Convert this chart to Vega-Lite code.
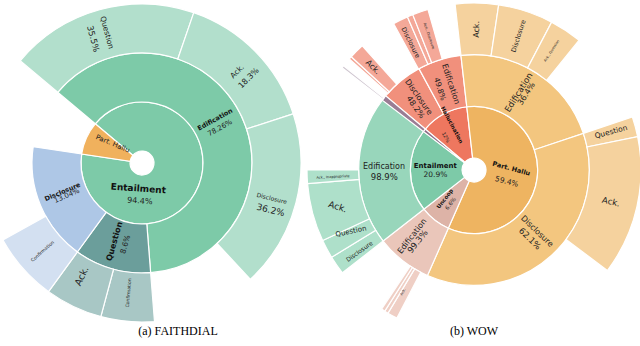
{
  "$schema": "https://vega.github.io/schema/vega-lite/v6.json",
  "padding": 0,
  "background": "white",
  "spacing": 24,
  "bounds": "flush",
  "config": {"view": {"stroke": null}, "title": {"font": "Liberation Serif", "fontSize": 12, "fontWeight": "normal", "color": "#000000", "anchor": "middle", "baseline": "top"}},
  "resolve": {"scale": {"theta": "independent", "radius": "independent", "color": "independent", "size": "independent", "angle": "independent"}},
  "datasets": {
    "leftArcs": [
      {"family": "Entailment", "ring": 1, "name": "Entailment", "start": -50, "end": 278.5},
      {"family": "Part. Hallu", "ring": 1, "name": "Part. Hallu", "start": 278.5, "end": 310},
      {"family": "Entailment", "ring": 2, "name": "Edification", "start": -50, "end": 175.5},
      {"family": "Question", "ring": 2, "name": "Question", "start": 175.5, "end": 216},
      {"family": "Disclosure", "ring": 2, "name": "Disclosure", "start": 216, "end": 278.5},
      {"family": "Entailment", "ring": 3, "name": "Question", "start": -50, "end": 19},
      {"family": "Entailment", "ring": 3, "name": "Ack.", "start": 19, "end": 72},
      {"family": "Entailment", "ring": 3, "name": "Disclosure", "start": 72, "end": 137},
      {"family": "Question", "ring": 3, "name": "Confirmation", "start": 175.5, "end": 195},
      {"family": "Question", "ring": 3, "name": "Ack.", "start": 195, "end": 216},
      {"family": "Disclosure", "ring": 3, "name": "Confirmation", "start": 216, "end": 241}
    ],
    "leftLabels": [
      {"text": "Entailment", "theta": 188.2, "depth": 0.28, "at": 184, "orient": "tangential", "tier": 12, "bold": true},
      {"text": "94.4%", "theta": 183.4, "depth": 0.54, "at": 184, "orient": "tangential", "tier": 10, "bold": false},
      {"text": "Part. Hallu", "theta": 303, "depth": 0.47, "at": 293, "orient": "radial", "tier": 8, "bold": false},
      {"text": "Edification", "theta": 59.3, "depth": 1.49, "at": 61, "orient": "radial", "tier": 7, "bold": true},
      {"text": "78.26%", "theta": 65.9, "depth": 1.5, "at": 61, "orient": "radial", "tier": 8, "bold": false},
      {"text": "Question", "theta": 344.8, "depth": 2.51, "at": 345, "orient": "radial", "tier": 9, "bold": false},
      {"text": "35.5%", "theta": 338.6, "depth": 2.48, "at": 345, "orient": "radial", "tier": 11, "bold": false},
      {"text": "Ack.", "theta": 46.3, "depth": 2.45, "at": 45, "orient": "radial", "tier": 9, "bold": false},
      {"text": "18.3%", "theta": 51.7, "depth": 2.54, "at": 45, "orient": "radial", "tier": 10, "bold": false},
      {"text": "Disclosure", "theta": 105.3, "depth": 2.5, "at": 104, "orient": "radial", "tier": 6, "bold": false},
      {"text": "36.2%", "theta": 110.1, "depth": 2.55, "at": 104, "orient": "radial", "tier": 12, "bold": false},
      {"text": "Disclosure", "theta": 250, "depth": 1.48, "at": 247, "orient": "radial", "tier": 7, "bold": true},
      {"text": "13.04%", "theta": 246.4, "depth": 1.43, "at": 247, "orient": "radial", "tier": 8, "bold": false},
      {"text": "Question", "theta": 199, "depth": 1.45, "at": 196, "orient": "radial", "tier": 10, "bold": true},
      {"text": "8.6%", "theta": 191.3, "depth": 1.45, "at": 196, "orient": "radial", "tier": 9, "bold": false},
      {"text": "Confirmation", "theta": 228.2, "depth": 2.47, "at": 228.5, "orient": "radial", "tier": 3, "bold": false},
      {"text": "Ack.", "theta": 208, "depth": 2.37, "at": 205.5, "orient": "radial", "tier": 13, "bold": false},
      {"text": "Confirmation", "theta": 185.7, "depth": 2.42, "at": 185, "orient": "radial", "tier": 3, "bold": false}
    ],
    "rightArcs": [
      {"family": "Hallucination", "ring": 1, "name": "Hallucination", "start": 310, "end": 353.5},
      {"family": "Part. Hallu", "ring": 1, "name": "Part. Hallu", "start": -6.5, "end": 203.8},
      {"family": "Uncoop", "ring": 1, "name": "Uncoop", "start": 203.8, "end": 232},
      {"family": "Entailment", "ring": 1, "name": "Entailment", "start": 232, "end": 307.5},
      {"family": "Other", "ring": 1, "name": "Other", "start": 307.3, "end": 310},
      {"family": "Hallucination", "ring": 2, "name": "Disclosure", "start": 310, "end": 331.5},
      {"family": "Hallucination", "ring": 2, "name": "Edification", "start": 331.5, "end": 353.5},
      {"family": "Part. Hallu", "ring": 2, "name": "Edification", "start": -6.5, "end": 71.5},
      {"family": "Part. Hallu", "ring": 2, "name": "Disclosure", "start": 71.5, "end": 203.8},
      {"family": "Uncoop", "ring": 2, "name": "Edification", "start": 203.8, "end": 232},
      {"family": "Entailment", "ring": 2, "name": "Edification", "start": 232, "end": 307.5},
      {"family": "Other", "ring": 2, "name": "Other", "start": 307.3, "end": 310},
      {"family": "Hallucination", "ring": 3, "name": "Ack., Question", "start": 311.7, "end": 312.7},
      {"family": "Hallucination", "ring": 3, "name": "Ack.", "start": 312.7, "end": 318},
      {"family": "Hallucination", "ring": 3, "name": "Disclosure", "start": 331.2, "end": 336.5},
      {"family": "Hallucination", "ring": 3, "name": "Ack., Question", "start": 336.5, "end": 338.5},
      {"family": "Hallucination", "ring": 3, "name": "Ack., Disclosure", "start": 338.5, "end": 344},
      {"family": "Part. Hallu", "ring": 3, "name": "Ack.", "start": -6.5, "end": 8.5},
      {"family": "Part. Hallu", "ring": 3, "name": "Disclosure", "start": 8.5, "end": 27.7},
      {"family": "Part. Hallu", "ring": 3, "name": "Ack., Disclosure", "start": 27.7, "end": 39},
      {"family": "Part. Hallu", "ring": 3, "name": "Question", "start": 71.5, "end": 78.5},
      {"family": "Part. Hallu", "ring": 3, "name": "Ack.", "start": 78.5, "end": 127},
      {"family": "Uncoop", "ring": 3, "name": "Ack.", "start": 207.5, "end": 211},
      {"family": "Uncoop", "ring": 3, "name": "Question", "start": 211, "end": 212.3},
      {"family": "Uncoop", "ring": 3, "name": "Disclosure", "start": 212.3, "end": 213.6},
      {"family": "Entailment", "ring": 3, "name": "Disclosure", "start": 232, "end": 238.5},
      {"family": "Entailment", "ring": 3, "name": "Question", "start": 238.5, "end": 245},
      {"family": "Entailment", "ring": 3, "name": "Ack.", "start": 245, "end": 265.3},
      {"family": "Entailment", "ring": 3, "name": "Ack., Inappropriate", "start": 265.3, "end": 270},
      {"family": "Other", "ring": 3, "name": "Other", "start": 307.8, "end": 308.6}
    ],
    "rightLabels": [
      {"text": "Part. Hallu", "theta": 88, "depth": 0.49, "at": 105, "orient": "radial", "tier": 7, "bold": true},
      {"text": "59.4%", "theta": 110, "depth": 0.44, "at": 105, "orient": "radial", "tier": 9, "bold": false},
      {"text": "Entailment", "theta": 275.9, "depth": 0.52, "at": 270, "orient": "radial", "tier": 8, "bold": true},
      {"text": "20.9%", "theta": 263, "depth": 0.52, "at": 270, "orient": "radial", "tier": 9, "bold": false},
      {"text": "Hallucination", "theta": 334.1, "depth": 0.74, "at": 332, "orient": "radial", "tier": 5, "bold": true},
      {"text": "12%", "theta": 319.7, "depth": 0.6, "at": 332, "orient": "radial", "tier": 4, "bold": false},
      {"text": "Uncoop", "theta": 225.6, "depth": 0.56, "at": 218, "orient": "radial", "tier": 5, "bold": true},
      {"text": "6.6%", "theta": 215.1, "depth": 0.56, "at": 218, "orient": "radial", "tier": 5, "bold": false},
      {"text": "Edification", "theta": 271.9, "depth": 1.51, "at": 270, "orient": "radial", "tier": 10, "bold": false},
      {"text": "98.9%", "theta": 265.6, "depth": 1.51, "at": 270, "orient": "radial", "tier": 11, "bold": false},
      {"text": "Edification", "theta": 29.8, "depth": 1.5, "at": 32, "orient": "radial", "tier": 11, "bold": false},
      {"text": "36.4%", "theta": 34.8, "depth": 1.56, "at": 32, "orient": "radial", "tier": 10, "bold": false},
      {"text": "Disclosure", "theta": 134.5, "depth": 1.47, "at": 134, "orient": "radial", "tier": 10, "bold": false},
      {"text": "62.1%", "theta": 140.7, "depth": 1.48, "at": 134, "orient": "radial", "tier": 11, "bold": false},
      {"text": "Disclosure", "theta": 322.5, "depth": 1.54, "at": 325, "orient": "radial", "tier": 10, "bold": false},
      {"text": "48.2%", "theta": 316.7, "depth": 1.43, "at": 325, "orient": "radial", "tier": 10, "bold": false},
      {"text": "Edification", "theta": 344.6, "depth": 1.49, "at": 342, "orient": "radial", "tier": 10, "bold": false},
      {"text": "49.8%", "theta": 336.9, "depth": 1.47, "at": 342, "orient": "radial", "tier": 9, "bold": false},
      {"text": "Edification", "theta": 222.8, "depth": 1.52, "at": 218, "orient": "radial", "tier": 10, "bold": false},
      {"text": "99.3%", "theta": 218.4, "depth": 1.53, "at": 218, "orient": "radial", "tier": 11, "bold": false},
      {"text": "Ack.", "theta": 1.2, "depth": 2.49, "at": 1, "orient": "radial", "tier": 10, "bold": false},
      {"text": "Disclosure", "theta": 18.4, "depth": 2.5, "at": 18, "orient": "radial", "tier": 7, "bold": false},
      {"text": "Ack., Question", "theta": 33.1, "depth": 2.52, "at": 33, "orient": "radial", "tier": 1, "bold": false},
      {"text": "Question", "theta": 74.6, "depth": 2.52, "at": 75, "orient": "radial", "tier": 9, "bold": false},
      {"text": "Ack.", "theta": 103, "depth": 2.49, "at": 103, "orient": "radial", "tier": 11, "bold": false},
      {"text": "Ack.", "theta": 315.3, "depth": 2.56, "at": 315, "orient": "radial", "tier": 10, "bold": false},
      {"text": "Disclosure", "theta": 333.5, "depth": 2.52, "at": 333.5, "orient": "radial", "tier": 7, "bold": false},
      {"text": "Ack., Disclosure", "theta": 341.4, "depth": 2.5, "at": 341, "orient": "radial", "tier": 1, "bold": false},
      {"text": "Ack.", "theta": 210.2, "depth": 2.5, "at": 210, "orient": "radial", "tier": 1, "bold": false},
      {"text": "Ack.", "theta": 254.9, "depth": 2.5, "at": 288, "orient": "radial", "tier": 12, "bold": false},
      {"text": "Question", "theta": 243.4, "depth": 2.43, "at": 258, "orient": "radial", "tier": 8, "bold": false},
      {"text": "Disclosure", "theta": 234.6, "depth": 2.49, "at": 234.6, "orient": "radial", "tier": 6, "bold": false},
      {"text": "Ack., Inappropriate", "theta": 267.2, "depth": 2.5, "at": 267, "orient": "radial", "tier": 1, "bold": false}
    ]
  },
  "hconcat": [
    {
      "width": 280,
      "height": 322,
      "title": {"text": "(a) FAITHDIAL", "orient": "bottom", "offset": 2, "dx": 36},
      "layer": [
        {
          "data": {"name": "leftArcs"},
          "transform": [
            {"calculate": "datum.family + ' ' + datum.ring", "as": "key"},
            {"calculate": "datum.ring - 1", "as": "ringIn"}
          ],
          "mark": {"type": "arc", "stroke": "white", "strokeWidth": 1.2},
          "encoding": {
            "theta": {"field": "start", "type": "quantitative", "stack": null, "scale": {"domain": [0, 360], "range": [0, 6.283185307179586]}},
            "theta2": {"field": "end"},
            "radius": {"field": "ring", "type": "quantitative", "scale": {"type": "linear", "zero": false, "domain": [0, 3], "range": [12, 159]}},
            "radius2": {"field": "ringIn"},
            "color": {"field": "key", "type": "nominal", "legend": null,
              "scale": {"domain": ["Entailment 1", "Part. Hallu 1", "Entailment 2", "Question 2", "Disclosure 2", "Entailment 3", "Question 3", "Disclosure 3"],
                        "range": ["#7dcaa8", "#f0b15d", "#7dcaa8", "#6b9e9b", "#aec7e6", "#b2dfcc", "#a8c7c5", "#d3e0f1"]}},
            "tooltip": [{"field": "name"}]
          }
        },
        {
          "data": {"name": "leftLabels"},
          "transform": [
            {"calculate": "datum.orient == 'radial' ? ((((datum.at - 90) % 180) + 180) % 180) : (((datum.at % 180) + 180) % 180)", "as": "r0"},
            {"calculate": "datum.r0 > 90 ? datum.r0 - 180 : datum.r0", "as": "rot"},
            {"filter": "datum.bold"}
          ],
          "mark": {"type": "text", "font": "DejaVu Sans", "fontWeight": "bold", "align": "center", "baseline": "middle", "color": "#111111"},
          "encoding": {
            "theta": {"field": "theta", "type": "quantitative", "stack": null, "scale": {"domain": [0, 360], "range": [0, 6.283185307179586]}},
            "radius": {"field": "depth", "type": "quantitative", "scale": {"type": "linear", "zero": false, "domain": [0, 3], "range": [12, 159]}},
            "text": {"field": "text"},
            "angle": {"field": "rot", "type": "quantitative", "scale": null},
            "size": {"field": "tier", "type": "quantitative", "legend": null, "scale": {"domain": [1, 13], "range": [3.5, 9.5]}}
          }
        },
        {
          "data": {"name": "leftLabels"},
          "transform": [
            {"calculate": "datum.orient == 'radial' ? ((((datum.at - 90) % 180) + 180) % 180) : (((datum.at % 180) + 180) % 180)", "as": "r0"},
            {"calculate": "datum.r0 > 90 ? datum.r0 - 180 : datum.r0", "as": "rot"},
            {"filter": "!datum.bold"}
          ],
          "mark": {"type": "text", "font": "DejaVu Sans", "align": "center", "baseline": "middle", "color": "#222222"},
          "encoding": {
            "theta": {"field": "theta", "type": "quantitative", "stack": null, "scale": {"domain": [0, 360], "range": [0, 6.283185307179586]}},
            "radius": {"field": "depth", "type": "quantitative", "scale": {"type": "linear", "zero": false, "domain": [0, 3], "range": [12, 159]}},
            "text": {"field": "text"},
            "angle": {"field": "rot", "type": "quantitative", "scale": null},
            "size": {"field": "tier", "type": "quantitative", "legend": null, "scale": {"domain": [1, 13], "range": [3.5, 9.5]}}
          }
        }
      ]
    },
    {
      "width": 336,
      "height": 336,
      "title": {"text": "(b) WOW", "orient": "bottom", "offset": -12},
      "layer": [
        {
          "data": {"name": "rightArcs"},
          "transform": [
            {"calculate": "datum.family + ' ' + datum.ring", "as": "key"},
            {"calculate": "datum.ring - 1", "as": "ringIn"}
          ],
          "mark": {"type": "arc", "stroke": "white", "strokeWidth": 1.2},
          "encoding": {
            "theta": {"field": "start", "type": "quantitative", "stack": null, "scale": {"domain": [0, 360], "range": [0, 6.283185307179586]}},
            "theta2": {"field": "end"},
            "radius": {"field": "ring", "type": "quantitative", "scale": {"type": "linear", "zero": false, "domain": [0, 3], "range": [12, 167]}},
            "radius2": {"field": "ringIn"},
            "color": {"field": "key", "type": "nominal", "legend": null,
              "scale": {"domain": ["Hallucination 1", "Hallucination 2", "Hallucination 3", "Part. Hallu 1", "Part. Hallu 2", "Part. Hallu 3", "Uncoop 1", "Uncoop 2", "Uncoop 3", "Entailment 1", "Entailment 2", "Entailment 3", "Other 1", "Other 2", "Other 3"],
                        "range": ["#ee775f", "#f1907c", "#f4a898", "#eeb461", "#f3c67f", "#f5d29e", "#ddb3a7", "#eac6ba", "#efcfc5", "#7dcaa8", "#98d6bb", "#aee0ca", "#8e6f88", "#9a7d94", "#cfc6d0"]}},
            "tooltip": [{"field": "name"}]
          }
        },
        {
          "data": {"name": "rightLabels"},
          "transform": [
            {"calculate": "datum.orient == 'radial' ? ((((datum.at - 90) % 180) + 180) % 180) : (((datum.at % 180) + 180) % 180)", "as": "r0"},
            {"calculate": "datum.r0 > 90 ? datum.r0 - 180 : datum.r0", "as": "rot"},
            {"filter": "datum.bold"}
          ],
          "mark": {"type": "text", "font": "DejaVu Sans", "fontWeight": "bold", "align": "center", "baseline": "middle", "color": "#111111"},
          "encoding": {
            "theta": {"field": "theta", "type": "quantitative", "stack": null, "scale": {"domain": [0, 360], "range": [0, 6.283185307179586]}},
            "radius": {"field": "depth", "type": "quantitative", "scale": {"type": "linear", "zero": false, "domain": [0, 3], "range": [12, 167]}},
            "text": {"field": "text"},
            "angle": {"field": "rot", "type": "quantitative", "scale": null},
            "size": {"field": "tier", "type": "quantitative", "legend": null, "scale": {"domain": [1, 13], "range": [3.5, 9.5]}}
          }
        },
        {
          "data": {"name": "rightLabels"},
          "transform": [
            {"calculate": "datum.orient == 'radial' ? ((((datum.at - 90) % 180) + 180) % 180) : (((datum.at % 180) + 180) % 180)", "as": "r0"},
            {"calculate": "datum.r0 > 90 ? datum.r0 - 180 : datum.r0", "as": "rot"},
            {"filter": "!datum.bold"}
          ],
          "mark": {"type": "text", "font": "DejaVu Sans", "align": "center", "baseline": "middle", "color": "#222222"},
          "encoding": {
            "theta": {"field": "theta", "type": "quantitative", "stack": null, "scale": {"domain": [0, 360], "range": [0, 6.283185307179586]}},
            "radius": {"field": "depth", "type": "quantitative", "scale": {"type": "linear", "zero": false, "domain": [0, 3], "range": [12, 167]}},
            "text": {"field": "text"},
            "angle": {"field": "rot", "type": "quantitative", "scale": null},
            "size": {"field": "tier", "type": "quantitative", "legend": null, "scale": {"domain": [1, 13], "range": [3.5, 9.5]}}
          }
        }
      ]
    }
  ]
}
